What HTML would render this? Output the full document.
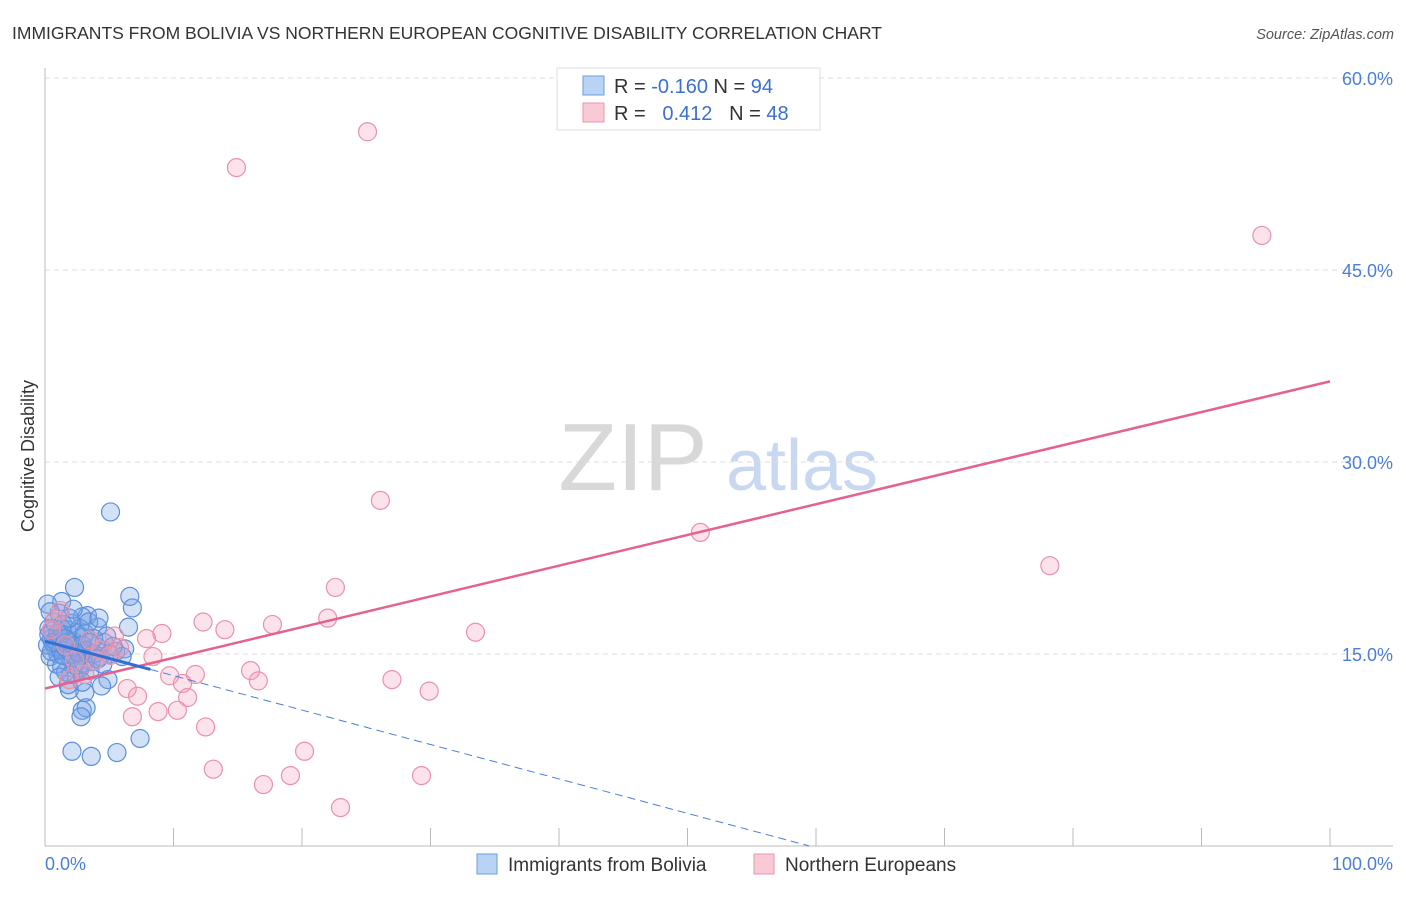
<!DOCTYPE html>
<html><head><meta charset="utf-8"><style>
body{margin:0;background:#fff;font-family:"Liberation Sans",sans-serif;}
svg text{font-family:"Liberation Sans",sans-serif;}
</style></head><body>
<svg id="chart" width="1406" height="892" xmlns="http://www.w3.org/2000/svg">
<text x="12" y="39" font-size="17.5" fill="#333">IMMIGRANTS FROM BOLIVIA VS NORTHERN EUROPEAN COGNITIVE DISABILITY CORRELATION CHART</text>
<text x="1394" y="39" font-size="14.5" fill="#555" text-anchor="end" font-style="italic">Source: ZipAtlas.com</text>
<g>
<text x="633" y="490" font-size="96" fill="#d8d8d8" text-anchor="middle" font-family="Liberation Serif, serif">ZIP</text>
<text x="802" y="490" font-size="72" fill="#c8d8f0" text-anchor="middle">atlas</text>
</g>
<g id="grid"></g>
<g id="axes"></g>
<g id="pts"></g>
<g id="trends"></g>
<text x="0" y="0" transform="translate(34,456) rotate(-90)" font-size="18" fill="#333" text-anchor="middle">Cognitive Disability</text>
<g>
<rect x="557" y="68" width="263" height="62" fill="#fff" stroke="#ddd"/>
<rect x="583" y="76" width="21" height="19" fill="#b9d3f5" stroke="#6a9de0"/>
<text x="614" y="93" font-size="20" fill="#333">R = <tspan fill="#3a70d0">-0.160</tspan>   N = <tspan fill="#3a70d0">94</tspan></text>
<rect x="583" y="103" width="21" height="19" fill="#f9c9d6" stroke="#e896ae"/>
<text x="614" y="120" font-size="20" fill="#333" xml:space="preserve">R =   <tspan fill="#3a70d0">0.412</tspan>   N = <tspan fill="#3a70d0">48</tspan></text>
</g>
<g>
<rect x="477" y="854" width="20" height="20" fill="#b9d3f5" stroke="#6a9de0"/>
<text x="508" y="871" font-size="19" fill="#333">Immigrants from Bolivia</text>
<rect x="754" y="854" width="20" height="20" fill="#f9c9d6" stroke="#e896ae"/>
<text x="785" y="871" font-size="19" fill="#333">Northern Europeans</text>
</g>
</svg>
<script>
const yTicks=[15,30,45,60];
const yTickLabels=["15.0%","30.0%","45.0%","60.0%"];
const xTickCount=10;
const pinkX=[25.1,14.9,94.7,26.1,51.0,78.2,22.6,22.0,12.3,17.7,14.0,33.5,9.1,7.9,5.4,5.8,8.4,16.0,11.7,9.7,10.7,27.0,16.6,29.9,6.4,7.2,11.1,8.8,10.3,6.8,12.5,20.2,13.1,19.1,17.0,29.3,23.0,4.3,3.5,1.2,2.3,0.8,1.9,3.1,1.6,0.5,3.9,5.1];
const pinkY=[55.8,53.0,47.7,27.0,24.5,21.9,20.2,17.8,17.5,17.3,16.9,16.7,16.6,16.2,16.4,15.5,14.8,13.7,13.4,13.3,12.7,13.0,12.9,12.1,12.3,11.7,11.6,10.5,10.6,10.1,9.3,7.4,6.0,5.5,4.8,5.5,3.0,15.3,16.1,18.4,14.5,17.7,13.0,13.4,15.7,16.9,14.5,14.9];
const blueX=[5.1,2.3,6.6,6.8,1.3,0.2,3.3,6.5,4.1,6.2,2.9,2.9,3.2,2.8,7.4,2.1,3.6,5.6,4.9,4.4,1.9,3.1,1.8,2.7,
0.3,0.5,0.8,1.0,0.4,0.6,1.2,1.5,1.8,2.0,2.2,2.5,2.8,3.0,3.3,3.6,4.0,4.3,4.6,5.0,0.2,0.7,1.1,1.4,1.7,2.1,2.4,2.7,3.1,3.4,3.8,4.2,0.9,1.3,1.6,2.0,2.3,2.6,3.0,3.5,0.5,0.8,1.0,1.2,1.4,1.6,1.9,2.1,2.3,2.6,2.9,3.2,3.5,3.8,4.1,4.5,5.5,6.0,0.3,0.6,1.0,1.3,1.6,1.9,2.2,0.4,1.1,2.9,4.8,5.3];
const blueY=[26.1,20.2,19.5,18.6,19.1,18.9,18.0,17.1,17.1,15.4,17.9,10.6,10.8,10.1,8.4,7.4,7.0,7.3,13.0,12.5,12.2,12.0,12.6,13.8,
17.0,16.2,15.5,15.0,14.8,16.8,16.5,15.8,15.2,14.6,16.0,15.4,14.9,16.3,15.1,14.4,15.6,14.8,15.9,15.0,15.7,17.5,18.2,17.3,16.9,17.4,16.7,17.0,16.6,17.5,16.2,17.8,14.2,14.0,13.6,13.4,14.1,13.9,14.3,13.7,15.2,16.0,15.8,15.3,14.9,15.5,15.9,15.0,15.6,15.1,15.7,15.3,15.9,15.0,14.6,14.2,15.2,14.8,16.5,15.9,16.6,17.0,16.2,17.8,18.5,18.3,13.2,12.8,16.4,15.6];
const pinkTrend=[12.3,36.3]; // y at x=0 and x=100
const blueTrend=[16.0,-0.269]; // intercept, slope
const blueSolidEnd=8.2;

const NS="http://www.w3.org/2000/svg";
const X0=45,X1=1330,Y0=846,PPY=12.8;
const sx=v=>X0+(X1-X0)*v/100;
const sy=v=>Y0-v*PPY;
function mk(tag,attrs,parent){const e=document.createElementNS(NS,tag);for(const k in attrs)e.setAttribute(k,attrs[k]);document.getElementById(parent).appendChild(e);return e;}
yTicks.forEach((t,i)=>{
 const g=mk('line',{x1:X0,x2:1393,y1:sy(t),y2:sy(t),stroke:'#ddd','stroke-dasharray':'5,4'},'grid');
 
 
 const l=mk('text',{x:1393,y:sy(t)+7,'font-size':18,fill:'#4a7fd4','text-anchor':'end'},'axes');
 l.textContent=yTickLabels[i];
 
 
});
const gl=mk('line',{x1:X0,x2:1393,y1:sy(60)-9,y2:sy(60)-9,stroke:'#fff'},'grid');
const ya=mk('line',{x1:X0,x2:X0,y1:68,y2:Y0,stroke:'#bbb'},'axes');


const xa=mk('line',{x1:X0,x2:1393,y1:Y0,y2:Y0,stroke:'#bbb'},'axes');


for(let i=1;i<=xTickCount;i++){const t=mk('line',{x1:sx(i*10),x2:sx(i*10),y1:828,y2:Y0,stroke:'#bbb'},'axes');
 
 }
const xl0=mk('text',{x:45,y:870,'font-size':18,fill:'#4a7fd4'},'axes');xl0.textContent='0.0%';


const xl1=mk('text',{x:1393,y:870,'font-size':18,fill:'#4a7fd4','text-anchor':'end'},'axes');xl1.textContent='100.0%';


blueX.forEach((v,i)=>{const c=mk('circle',{cx:sx(v),cy:sy(blueY[i]),r:9,fill:'rgba(120,165,230,0.33)',stroke:'#5b8fdc','stroke-width':1.2},'pts');
 
 });
pinkX.forEach((v,i)=>{const c=mk('circle',{cx:sx(v),cy:sy(pinkY[i]),r:9,fill:'rgba(245,160,185,0.3)',stroke:'#e991ab','stroke-width':1.2},'pts');
 
 });
const pt=mk('line',{x1:sx(0),y1:sy(pinkTrend[0]),x2:sx(100),y2:sy(pinkTrend[1]),stroke:'#e5628c','stroke-width':2.5},'trends');


const bEnd=-blueTrend[0]/blueTrend[1];
const bs=mk('line',{x1:sx(0),y1:sy(blueTrend[0]),x2:sx(blueSolidEnd),y2:sy(blueTrend[0]+blueTrend[1]*blueSolidEnd),stroke:'#2f6fd6','stroke-width':3},'trends');


const bd=mk('line',{x1:sx(blueSolidEnd),y1:sy(blueTrend[0]+blueTrend[1]*blueSolidEnd),x2:sx(bEnd),y2:sy(0),stroke:'#4a80d8','stroke-width':1,'stroke-dasharray':'8,5'},'trends');


</script>
</body></html>
